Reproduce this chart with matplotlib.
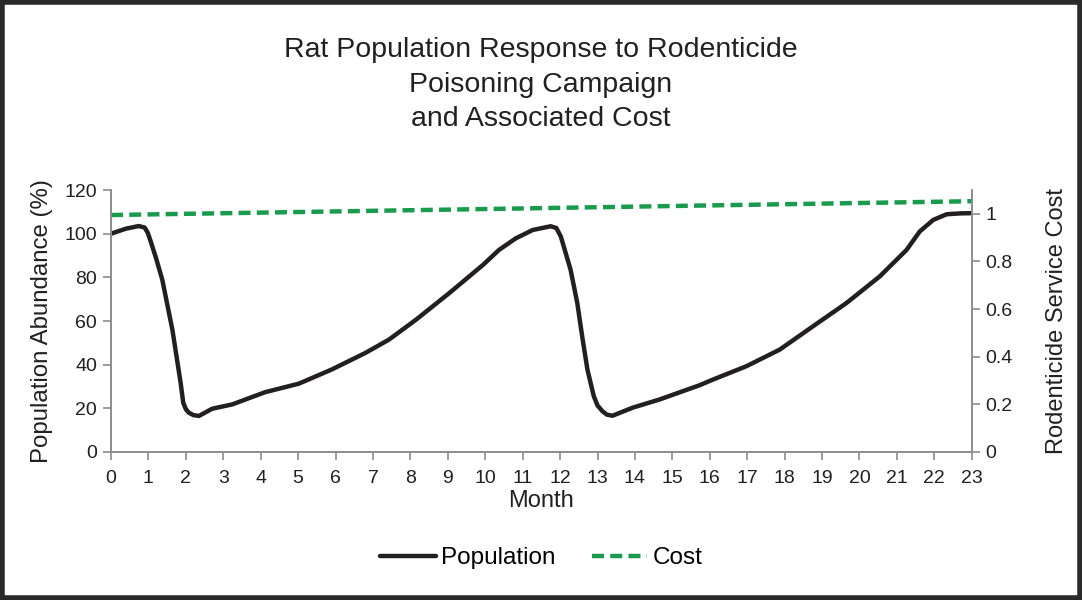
import matplotlib.pyplot as plt
import matplotlib.patches as patches

plt.rcParams['font.family'] = ['Liberation Sans', 'DejaVu Sans']

# population (month, % abundance)
pop_month = [0, 0.4, 0.74, 0.9, 0.98, 1.05, 1.2, 1.37, 1.64, 1.86, 1.93, 2.0, 2.08,
             2.2, 2.35, 2.7, 3.24, 4.12, 5.02, 5.9, 6.8, 7.43, 8.15, 9.04, 9.94,
             10.37, 10.82, 11.27, 11.75, 11.9, 12.02, 12.28, 12.46, 12.59, 12.73,
             12.9, 13.0, 13.13, 13.25, 13.4, 13.94, 14.65, 15.73, 16.09, 16.98,
             17.87, 18.76, 19.65, 20.54, 21.26, 21.61, 21.97, 22.33, 22.7, 23]
pop_value = [100, 102.3, 103.5, 102.8, 100.5, 97, 89, 78.9, 56, 31.7, 22.6, 19.6, 18,
             16.9, 16.5, 19.8, 21.8, 27.4, 31.3, 37.8, 45.4, 51.5, 60.6, 72.8, 85.7,
             92.6, 97.9, 101.7, 103.4, 102.6, 98.7, 83.5, 68.2, 53, 37.8,
             25.6, 21.3, 18.7, 17.1, 16.6, 20.3, 24, 30.6, 33.2, 39.3,
             46.9, 57.6, 68.2, 80.4, 92.6, 101, 106.3, 108.9, 109.3, 109.4]

# cost (right axis)
cost_month = [0, 23]
cost_value = [0.995, 1.053]

x_ticks = list(range(0, 24))
left_ticks = [0, 20, 40, 60, 80, 100, 120]
right_ticks = [0, 0.2, 0.4, 0.6, 0.8, 1]
right_labels = ['0', '0.2', '0.4', '0.6', '0.8', '1']

black = '#231f20'
green = '#1a9a4c'
gray = '#8c8c8c'

fig = plt.figure(figsize=(10.82, 6), dpi=100)
ax = fig.add_axes([0.1026, 0.2467, 0.7955, 0.4366])
ax2 = ax.twinx()

l1, = ax.plot(pop_month, pop_value, color=black, lw=3.2, solid_joinstyle='round',
              solid_capstyle='round', label='Population')
l2, = ax2.plot(cost_month, cost_value, color=green, lw=3.2, dashes=(2.7, 1.4),
               label='Cost')

ax.set_xlim(0, 23)
ax.set_ylim(0, 120)
ax2.set_ylim(0, 1.1)
ax.set_xticks(x_ticks)
ax.set_yticks(left_ticks)
ax2.set_yticks(right_ticks)
ax2.set_yticklabels(right_labels)

for a in (ax, ax2):
    a.spines['top'].set_visible(False)
    for s in ('left', 'right', 'bottom'):
        a.spines[s].set_color(gray)
        a.spines[s].set_linewidth(1.2)
    a.tick_params(colors=gray, labelcolor=black, length=6, width=1.2, direction='out')

ax.tick_params(axis='x', labelsize=14, pad=7)
ax.tick_params(axis='y', labelsize=14, pad=4)
ax2.tick_params(axis='y', labelsize=14, pad=4)

ax.set_xlabel('Month', fontsize=17, color=black, labelpad=2)
ax.set_ylabel('Population Abundance (%)', fontsize=17.3, color=black, labelpad=8)
ax2.set_ylabel('Rodenticide Service Cost', fontsize=17, color=black, labelpad=24)

fig.text(0.5, 0.938, 'Rat Population Response to Rodenticide\nPoisoning Campaign\nand Associated Cost',
         ha='center', va='top', fontsize=20.5, color=black, linespacing=1.42)

fig.legend([l1, l2], ['Population', 'Cost'], loc='center', bbox_to_anchor=(0.5, 0.07),
           ncol=2, frameon=False, fontsize=17.5, handlelength=2.3, handletextpad=0.2,
           columnspacing=1.5)

# dark frame round the figure
fig.patches.append(patches.Rectangle((0.0015, 0.003), 0.997, 0.994, transform=fig.transFigure,
                                     fill=False, edgecolor='#2a2a2a', lw=4))

fig.savefig('out.png', dpi=100)
